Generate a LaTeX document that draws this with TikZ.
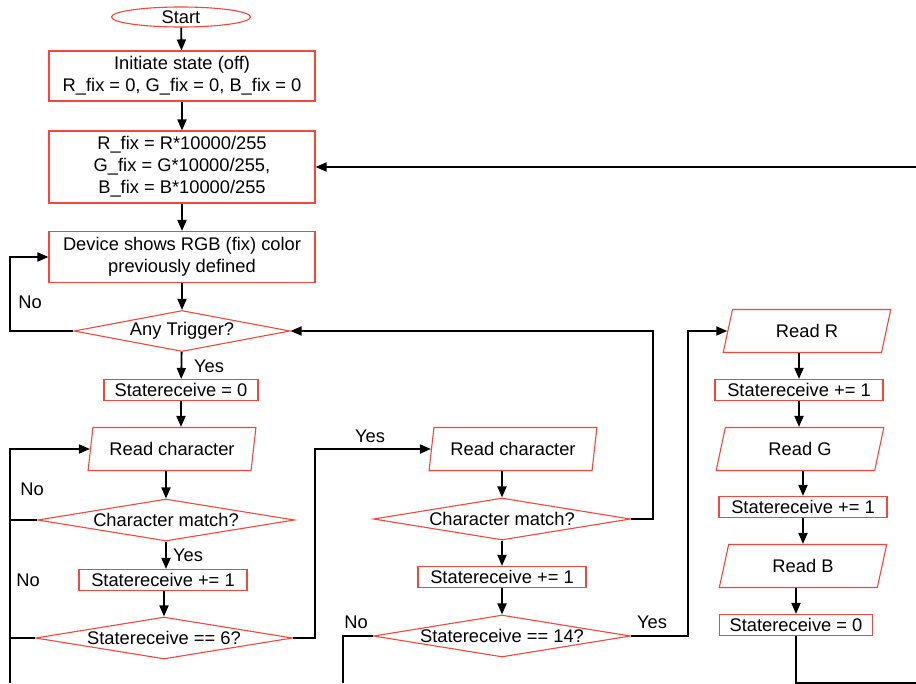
\documentclass[tikz,border=0pt]{standalone}
\usepackage{fontspec}
\setmainfont{Liberation Sans}
\usetikzlibrary{shapes.geometric,arrows.meta}
\definecolor{flowred}{RGB}{245,70,60}

\begin{document}
\begin{tikzpicture}[
  x=1pt, y=-1pt,
  font=\fontsize{18.3}{22}\selectfont,
  >={Triangle[length=11pt,width=9pt]},
  line/.style={line width=1.8pt},
  proc/.style={draw=flowred, line width=1.1pt, align=center, inner sep=0pt,
               minimum width=168pt, minimum height=21pt},
  io/.style={draw=flowred, line width=1.1pt, trapezium, trapezium stretches=true,
             trapezium left angle=74, trapezium right angle=106, inner sep=0pt,
             minimum width=168pt, minimum height=43pt},
  decide/.style={draw=flowred, line width=1.1pt, diamond, aspect=7,
                 inner xsep=-15pt, inner ysep=0pt,
                 minimum width=257pt, minimum height=42pt},
  term/.style={draw=flowred, line width=1.1pt, ellipse, inner xsep=0pt,
               inner ysep=-2pt, minimum width=139pt, minimum height=20pt},
  lbl/.style={inner sep=0pt}
]
\useasboundingbox (0,0) rectangle (916,683);

% ---------- left column ----------
\node[term]                                      (start) at (181,17)  {Start};
\node[proc, minimum width=266pt, minimum height=50pt] (init)  at (182,76)
      {Initiate state (off)\\R\_fix = 0, G\_fix = 0, B\_fix = 0};
\node[proc, minimum width=266pt, minimum height=72pt] (calc)  at (182,167)
      {R\_fix = R*10000/255\\G\_fix = G*10000/255,\\B\_fix = B*10000/255};
\node[proc, minimum width=266pt, minimum height=51pt] (show)  at (182,257)
      {Device shows RGB (fix) color\\previously defined};
\node[decide, minimum width=216pt, minimum height=41pt] (trig) at (182,331) {Any Trigger?};
\node[proc, minimum width=154pt] (zero1) at (181,390) {Statereceive = 0};
\node[io]                        (rc1)   at (172,449) {Read character};
\node[decide]                    (cm1)   at (166,520) {Character match?};
\node[proc]                      (inc1)  at (163,580) {Statereceive += 1};
\node[decide]                    (eq6)   at (164,638) {Statereceive == 6?};

% ---------- middle column ----------
\node[io]                        (rc2)   at (513,449) {Read character};
\node[decide]                    (cm2)   at (502,519) {Character match?};
\node[proc]                      (inc2)  at (502,577) {Statereceive += 1};
\node[decide]                    (eq14)  at (502,636) {Statereceive == 14?};

% ---------- right column ----------
\node[io]                        (readR) at (807,331) {Read R};
\node[proc]                      (incR)  at (799,390) {Statereceive += 1};
\node[io]                        (readG) at (800,449) {Read G};
\node[proc]                      (incG)  at (803,507) {Statereceive += 1};
\node[io]                        (readB) at (803,566) {Read B};
\node[proc, minimum width=153pt] (zero2) at (796,625) {Statereceive = 0};

% ---------- free ends at the border ----------
\coordinate (inR)   at (916,167);
\coordinate (botL)  at (10,683);
\coordinate (botM)  at (343,683);
\coordinate (botR)  at (796,683);
\coordinate (edgeR) at (916,683);

% ---------- main flow ----------
\draw[line,->] (start) -- (init);
\draw[line,->] (init)  -- (calc);
\draw[line,->] (calc)  -- (show);
\draw[line,->] (show)  -- (trig);
\draw[line,->] (trig)  -- (zero1);
\draw[line,->] (zero1.south) -- (zero1.south |- rc1.north);
\draw[line,->] (cm1.north |- rc1.south) -- (cm1.north);
\draw[line,->] (cm1.south) -- (cm1.south |- inc1.north);
\draw[line,->] (eq6.north |- inc1.south) -- (eq6.north);

\draw[line,->] (cm2.north |- rc2.south) -- (cm2.north);
\draw[line,->] (cm2)  -- (inc2);
\draw[line,->] (inc2) -- (eq14);

\draw[line,->] (incR.north |- readR.south) -- (incR.north);
\draw[line,->] (incR.south) -- (incR.south |- readG.north);
\draw[line,->] (incG.north |- readG.south) -- (incG.north);
\draw[line,->] (incG.south) -- (incG.south |- readB.north);
\draw[line,->] (zero2.north |- readB.south) -- (zero2.north);

% ---------- loops and branches ----------
\draw[line,->] (trig.west) -- (10,331) |- (show.west);
\draw[line,->] (botL) |- (rc1.west);
\draw[line]    (cm1.west) -- (cm1.west -| botL);
\draw[line]    (eq6.west) -- (eq6.west -| botL);
\draw[line,->] (eq6.east) -- (315,638) |- (rc2.west);
\draw[line,->] (cm2.east) -- (653,519) |- (trig.east);
\draw[line]    (eq14.west) -- (eq14.west -| botM) -- (botM);
\draw[line,->] (eq14.east) -- (688,636) |- (readR.west);
\draw[line]    (zero2.south) -- (botR) -- (edgeR);
\draw[line,->] (inR) -- (calc.east);

% ---------- labels ----------
\node[lbl] (no1)  at (30,302)  {No};
\node[lbl] (yes1) at (209,366) {Yes};
\node[lbl] (no2)  at (32,489)  {No};
\node[lbl] (yes2) at (188,555) {Yes};
\node[lbl] (no3)  at (28,580)  {No};
\node[lbl] (yes3) at (370,436) {Yes};
\node[lbl] (no4)  at (356,622) {No};
\node[lbl] (yes4) at (652,622) {Yes};

\end{tikzpicture}
\end{document}
